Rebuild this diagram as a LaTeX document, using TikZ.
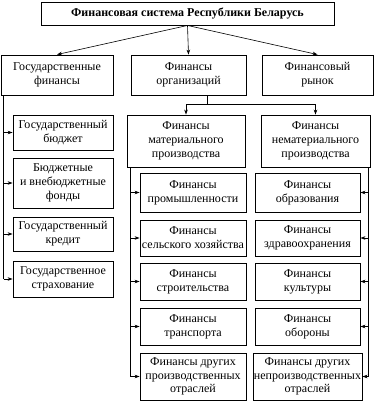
\documentclass[tikz,border=0pt]{standalone}
\usepackage{fontspec}
\setmainfont{Liberation Serif}
\usepackage{tikz}
\usetikzlibrary{arrows.meta, positioning, calc}
\tikzset{
  % Box styles
  box/.style={rectangle, draw=black, line width=0.9pt, fill=white, align=center, inner sep=1pt, font=\fontsize{12}{13.8}\selectfont},
  topbox/.style={box, font=\bfseries\fontsize{12}{14}\selectfont},
  % Connector styles
  arrow/.style={-{Stealth[length=5pt, width=3.6pt]}, line width=0.6pt},
  rail/.style={line width=0.6pt},
}

\begin{document}
\begin{tikzpicture}[x=1pt, y=-1pt,
    subbox/.style={box, minimum width=106pt}
  ]
  \useasboundingbox (0,0) rectangle (375,403);

  % Top
  \node[topbox, minimum width=293pt, minimum height=23pt] (title) at (187.5,13.5) {Финансовая система Республики Беларусь};

  % Second row
  \node[box, minimum width=112pt, minimum height=40pt] (gosfin) at (57,75) {Государственные\\финансы};
  \node[box, minimum width=115pt, minimum height=40pt] (orgfin) at (188.5,75) {Финансы\\организаций};
  \node[box, minimum width=111pt, minimum height=40pt] (rynok) at (317.5,75) {Финансовый\\рынок};

  \draw[arrow] (title.south) -- (gosfin.north);
  \draw[arrow] (title.south) -- (orgfin.north);
  \draw[arrow] (title.south) -- (rynok.north);

  % Public finance
  \foreach \y/\h/\nm/\txt in {132.5/35/budget/{Государственный\\бюджет},
      183/50/fondy/{Бюджетные\\и внебюджетные\\фонды},
      234/34/kredit/{Государственный\\кредит},
      279/36/strakh/{Государственное\\страхование}} {
    \node[box, minimum width=100pt, minimum height=\h pt] (\nm) at (63,\y) {\txt};
  }
  \coordinate (gosrail) at ([xshift=3pt]gosfin.south west);
  \draw[rail] (gosrail) -- (gosrail |- strakh);
  \foreach \nm in {budget,fondy,kredit,strakh}
    \draw[arrow] (gosrail |- \nm) -- (\nm.west);

  % Finance of organisations
  \node[box, minimum width=118pt, minimum height=52pt] (matprod) at (186,141) {Финансы\\материального\\производства};
  \node[box, minimum width=109pt, minimum height=52pt] (nematprod) at (315.5,141) {Финансы\\нематериального\\производства};

  \coordinate (orgfork) at (207,104);
  \draw[rail] (orgfin.south -| orgfork) -- (orgfork);
  \draw[arrow] (orgfork) -| (matprod.north);
  \draw[arrow] (orgfork) -| (nematprod.north);

  \coordinate (matrail) at ([xshift=4pt]matprod.south west);
  \coordinate (nemrail) at ([xshift=-2pt]nematprod.south east);

  % Branches
  \foreach \y/\h/\l/\ltxt/\r/\rtxt in {
      192.5/39/prom/{Финансы\\промышленности}/obraz/{Финансы\\образования},
      238/36/selhoz/{Финансы\\сельского хозяйства}/zdrav/{Финансы\\здравоохранения},
      281.5/37/stroit/{Финансы\\строительства}/kult/{Финансы\\культуры},
      326.5/37/transp/{Финансы\\транспорта}/obor/{Финансы\\обороны},
      376.5/47/drprod/{Финансы других\\производственных\\отраслей}/drnepr/{Финансы других\\непроизводственных\\отраслей}} {
    \node[subbox, minimum height=\h pt] (\l) at (193,\y) {\ltxt};
    \node[subbox, minimum width=105pt, minimum height=\h pt] (\r) at (307.5,\y) {\rtxt};
    \draw[arrow] (matrail |- \l) -- (\l.west);
    \draw[arrow] (nemrail |- \r) -- (\r.east);
  }
  \draw[rail] (matrail) -- (matrail |- drprod);
  \draw[rail] (nemrail) -- (nemrail |- drnepr);
\end{tikzpicture}
\end{document}
